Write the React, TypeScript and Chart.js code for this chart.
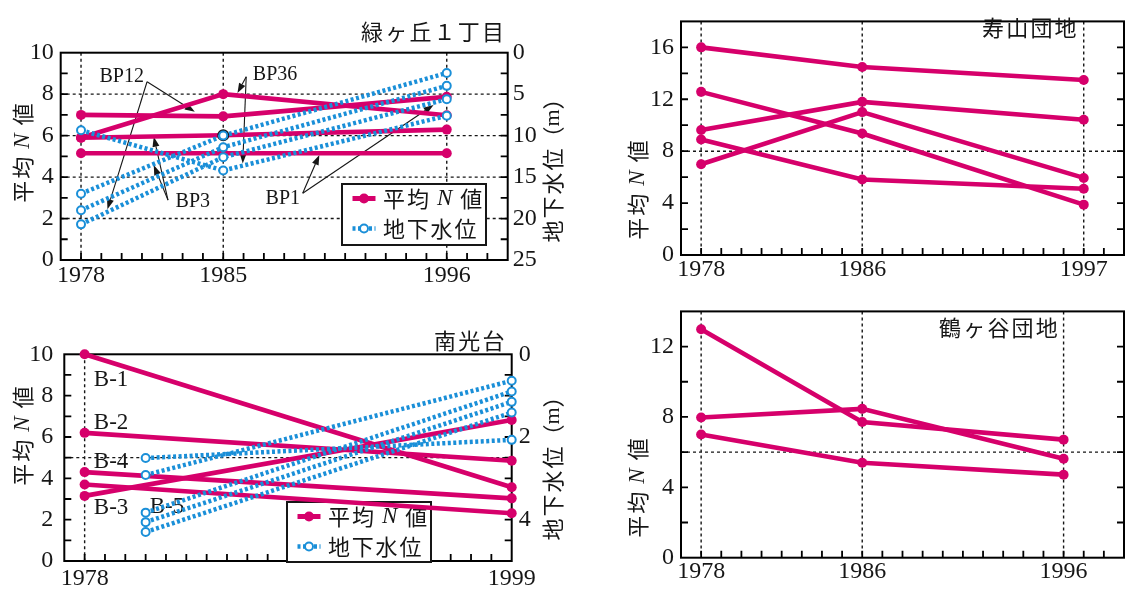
import React, { useEffect, useRef } from 'react';
import { Chart, registerables } from 'chart.js';
Chart.register(...registerables);

const PINK = '#d6006b';
const BLUE = '#1a8fd8';
const INK = '#161616';
const CJK = '"Noto Sans CJK JP", "Noto Sans CJK SC", sans-serif';
const SERIF = '"Liberation Serif", "DejaVu Serif", serif';

// minor tick positions
const yearMarks = [1978, 1979, 1980, 1981, 1982, 1983, 1984, 1985, 1986, 1987, 1988, 1989, 1990, 1991, 1992, 1993, 1994, 1995, 1996, 1997, 1998];

// ---------- Panel 1 : 緑ヶ丘１丁目 ----------
const p1Years = [1978, 1985, 1996];
const p1N_BP12 = [7.0, 6.93, 7.87];
const p1N_BP36 = [5.9, 8.0, 6.98];
const p1N_BP3 = [5.9, 6.02, 6.29];
const p1N_BP1 = [5.15, 5.15, 5.15];
const p1W_BP36 = [9.35, 14.2, 7.6];
const p1W_BP3 = [17.0, 10.0, 2.45];
const p1W_BP12 = [19.0, 11.4, 4.0];
const p1W_BP1 = [20.7, 12.6, 5.6];
const p1XLabels = [1978, 1985, 1996];
const p1YLabels = [0, 2, 4, 6, 8, 10];
const p1WLabels = [0, 5, 10, 15, 20, 25];
const p1GridY = [2, 4, 6, 8];
const p1YMarks = [1, 2, 3, 4, 5, 6, 7, 8, 9];

// ---------- Panel 2 : 南光台 ----------
const p2NYears = [1978, 1999];
const p2N_B1 = [10.0, 3.57];
const p2N_B2 = [6.2, 4.85];
const p2N_B4 = [4.3, 3.03];
const p2N_B3 = [3.15, 6.82];
const p2N_B5 = [3.7, 2.31];
const p2WYears = [1981, 1999];
const p2W_1 = [2.92, 0.64];
const p2W_2 = [3.83, 0.9];
const p2W_3 = [4.06, 1.15];
const p2W_4 = [4.3, 1.41];
const p2W_5 = [2.51, 2.07];
const p2XLabels = [1978, 1999];
const p2YLabels = [0, 2, 4, 6, 8, 10];
const p2WLabels = [0, 2, 4];
const p2GridX = [1978];
const p2GridY = [5];
const p2YMarks = [1, 2, 3, 4, 5, 6, 7, 8, 9];

// ---------- Panel 3 : 寿山団地 ----------
const p3Years = [1978, 1986, 1997];
const p3N_a = [16.0, 14.49, 13.48];
const p3N_b = [12.57, 9.36, 3.88];
const p3N_c = [9.63, 11.8, 10.42];
const p3N_d = [6.99, 11.01, 5.94];
const p3N_e = [8.9, 5.82, 5.1];
const p3XLabels = [1978, 1986, 1997];
const p3YLabels = [0, 4, 8, 12, 16];
const p3GridY = [8];
const p3YMarks = [2, 4, 6, 8, 10, 12, 14, 16];

// ---------- Panel 4 : 鶴ヶ谷団地 ----------
const p4Years = [1978, 1986, 1996];
const p4N_a = [12.99, 7.71, 6.71];
const p4N_b = [7.97, 8.46, 5.62];
const p4N_c = [7.0, 5.4, 4.72];
const p4XLabels = [1978, 1986, 1996];
const p4YLabels = [0, 4, 8, 12];
const p4GridY = [6];
const p4YMarks = [2, 4, 6, 8, 10, 12];

// annotations (data coordinates)
const p1Notes = [
  { label: 'BP12', at: [1980.0, 8.83], from: [1981.25, 8.6], to: [[1983.6, 7.15], [1979.3, 2.45]] },
  { label: 'BP36', at: [1987.55, 8.92], from: [1986.13, 8.84], to: [[1985.7, 8.05], [1985.96, 4.66]] },
  { label: 'BP3', at: [1983.5, 2.81], from: [1982.28, 2.89], to: [[1981.58, 5.95], [1981.58, 4.58]] },
  { label: 'BP1', at: [1987.93, 2.94], from: [1988.91, 3.22], to: [[1989.73, 5.07], [1995.35, 7.48]] },
];
const p2Labels = [
  { label: 'B-1', at: [1978.45, 8.76] },
  { label: 'B-2', at: [1978.45, 6.7] },
  { label: 'B-4', at: [1978.45, 4.8] },
  { label: 'B-3', at: [1978.45, 2.55] },
  { label: 'B-5', at: [1981.2, 2.63] },
];

type Part = { t?: string; f?: string; ls?: number; gap?: number };
const cjk = (t: string, ls = 2.2): Part => ({ t, f: `22px ${CJK}`, ls });
const N_TITLE: Part[] = [cjk('平均', 2), { gap: 8 }, { t: 'N', f: `italic 23px ${SERIF}` }, { gap: 8 }, cjk('値')];
const W_TITLE: Part[] = [cjk('地下水位', 2), { t: '（', f: `22px ${CJK}` }, { t: 'm', f: `22px ${SERIF}` }, { t: '）', f: `22px ${CJK}` }];

function partsWidth(ctx: CanvasRenderingContext2D, parts: Part[]) {
  let w = 0;
  for (const p of parts) {
    if (p.gap) { w += p.gap; continue; }
    ctx.font = p.f!;
    const chars = Array.from(p.t!);
    chars.forEach((ch, i) => { w += ctx.measureText(ch).width + (i < chars.length - 1 ? p.ls || 0 : 0); });
  }
  return w;
}
function drawParts(ctx: CanvasRenderingContext2D, parts: Part[], x: number, y: number, align: 'left' | 'center') {
  ctx.textBaseline = 'middle';
  ctx.textAlign = 'left';
  let cx = align === 'center' ? x - partsWidth(ctx, parts) / 2 : x;
  for (const p of parts) {
    if (p.gap) { cx += p.gap; continue; }
    ctx.font = p.f!;
    const chars = Array.from(p.t!);
    chars.forEach((ch, i) => {
      ctx.fillText(ch, cx, y);
      cx += ctx.measureText(ch).width + (i < chars.length - 1 ? p.ls || 0 : 0);
    });
  }
}
function drawRotated(ctx: CanvasRenderingContext2D, parts: Part[], x: number, y: number) {
  ctx.save();
  ctx.translate(x, y);
  ctx.rotate(-Math.PI / 2);
  drawParts(ctx, parts, 0, 0, 'center');
  ctx.restore();
}
function arrow(ctx: CanvasRenderingContext2D, x1: number, y1: number, x2: number, y2: number) {
  const ang = Math.atan2(y2 - y1, x2 - x1);
  const hl = 10, hw = 3.5;
  const bx = x2 - hl * Math.cos(ang), by = y2 - hl * Math.sin(ang);
  ctx.beginPath();
  ctx.moveTo(x1, y1);
  ctx.lineTo(bx, by);
  ctx.stroke();
  ctx.beginPath();
  ctx.moveTo(x2, y2);
  ctx.lineTo(bx + hw * Math.sin(ang), by - hw * Math.cos(ang));
  ctx.lineTo(bx - hw * Math.sin(ang), by + hw * Math.cos(ang));
  ctx.closePath();
  ctx.fill();
}

function drawLegend(ctx: CanvasRenderingContext2D, L: { x: number; y: number; w: number; h: number }) {
  ctx.save();
  ctx.setLineDash([]);
  ctx.fillStyle = '#fff';
  ctx.fillRect(L.x, L.y, L.w, L.h);
  ctx.strokeStyle = INK;
  ctx.lineWidth = 2;
  ctx.strokeRect(L.x, L.y, L.w, L.h);
  const r1 = L.y + 14.5, r2 = L.y + 44.5;
  const s1 = L.x + 10.5, s2 = L.x + 33.5, mid = (s1 + s2) / 2;
  ctx.strokeStyle = PINK;
  ctx.lineWidth = 5;
  ctx.beginPath(); ctx.moveTo(s1, r1); ctx.lineTo(s2, r1); ctx.stroke();
  ctx.fillStyle = PINK;
  ctx.beginPath(); ctx.arc(mid, r1, 5, 0, Math.PI * 2); ctx.fill();
  ctx.strokeStyle = BLUE;
  ctx.lineWidth = 4.5;
  ctx.setLineDash([3, 2.5]);
  ctx.beginPath(); ctx.moveTo(s1, r2); ctx.lineTo(s2, r2); ctx.stroke();
  ctx.setLineDash([]);
  ctx.fillStyle = '#fff';
  ctx.lineWidth = 2;
  ctx.beginPath(); ctx.arc(mid, r2, 4, 0, Math.PI * 2); ctx.fill(); ctx.stroke();
  ctx.fillStyle = INK;
  drawParts(ctx, N_TITLE, L.x + 41, r1, 'left');
  drawParts(ctx, [cjk('地下水位', 1.8)], L.x + 41, r2, 'left');
  ctx.restore();
}

const pts = (years: number[], vals: number[]) => years.map((x, i) => ({ x, y: vals[i] }));
const nDs = (years: number[], vals: number[], extra: any = {}) => ({
  data: pts(years, vals),
  borderColor: PINK, backgroundColor: PINK, borderWidth: 4.6,
  pointRadius: 5, pointHoverRadius: 5, pointBackgroundColor: PINK, pointBorderColor: PINK, pointBorderWidth: 0,
  yAxisID: 'y', order: 2, clip: false, ...extra,
});
const wDs = (years: number[], vals: number[]) => ({
  data: pts(years, vals),
  borderColor: BLUE, backgroundColor: '#fff', borderWidth: 4.5, borderDash: [3, 2.5],
  pointRadius: 4, pointHoverRadius: 4, pointBackgroundColor: '#fff', pointBorderColor: BLUE, pointBorderWidth: 2,
  yAxisID: 'y2', order: 1, clip: false,
});

interface PanelCfg {
  box: { left: number; top: number; w: number; h: number };
  area: { left: number; right: number; top: number; bottom: number };
  xMin: number; xMax: number; xLabels: number[]; xMarks: number[];
  yMin: number; yMax: number; yLabels: number[]; yMarks: number[];
  y2?: { min: number; max: number; labels: number[] };
  gridX: number[]; gridY: number[];
  datasets: any[];
  title: { text: string; x: number; y: number };
  yTitle: [number, number];
  y2Title?: [number, number];
  legend?: { x: number; y: number; w: number; h: number };
  notes?: typeof p1Notes;
  labels?: typeof p2Labels;
  pad: { x: number; y: number; y2: number };
}

function decoPlugin(cfg: PanelCfg) {
  return {
    id: 'deco',
    beforeDatasetsDraw(chart: any) {
      const ctx: CanvasRenderingContext2D = chart.ctx;
      const a = chart.chartArea;
      const sx = chart.scales.x, sy = chart.scales.y;
      ctx.save();
      // dotted grid
      ctx.strokeStyle = INK;
      ctx.lineWidth = 1.4;
      ctx.setLineDash([3, 3]);
      ctx.beginPath();
      cfg.gridX.forEach((v) => { const p = sx.getPixelForValue(v); ctx.moveTo(p, a.top); ctx.lineTo(p, a.bottom); });
      cfg.gridY.forEach((v) => { const p = sy.getPixelForValue(v); ctx.moveTo(a.left, p); ctx.lineTo(a.right, p); });
      ctx.stroke();
      ctx.restore();

      // inward tick marks
      ctx.save();
      ctx.setLineDash([]);
      ctx.strokeStyle = '#000';
      ctx.lineWidth = 1.8;
      ctx.beginPath();
      cfg.xMarks.forEach((v) => { const p = sx.getPixelForValue(v); ctx.moveTo(p, a.bottom); ctx.lineTo(p, a.bottom - 7); });
      cfg.yMarks.forEach((v) => {
        const p = sy.getPixelForValue(v);
        ctx.moveTo(a.left, p); ctx.lineTo(a.left + 7, p);
        ctx.moveTo(a.right, p); ctx.lineTo(a.right - 7, p);
      });
      ctx.stroke();
      // frame
      ctx.lineWidth = 2;
      ctx.strokeRect(a.left, a.top, a.right - a.left, a.bottom - a.top);
      ctx.restore();

      if (cfg.legend) drawLegend(ctx, cfg.legend);

      ctx.save();
      ctx.fillStyle = INK;
      ctx.strokeStyle = INK;
      ctx.lineWidth = 1.1;
      (cfg.notes || []).forEach((n) => {
        ctx.font = `20px ${SERIF}`;
        ctx.textAlign = 'center';
        ctx.textBaseline = 'middle';
        ctx.fillText(n.label, sx.getPixelForValue(n.at[0]), sy.getPixelForValue(n.at[1]));
        const fx = sx.getPixelForValue(n.from[0]), fy = sy.getPixelForValue(n.from[1]);
        n.to.forEach((t) => arrow(ctx, fx, fy, sx.getPixelForValue(t[0]), sy.getPixelForValue(t[1])));
      });
      (cfg.labels || []).forEach((l) => {
        ctx.font = `23px ${SERIF}`;
        ctx.textAlign = 'left';
        ctx.textBaseline = 'middle';
        ctx.fillText(l.label, sx.getPixelForValue(l.at[0]), sy.getPixelForValue(l.at[1]));
      });
      ctx.restore();
    },
    afterDraw(chart: any) {
      const { ctx } = chart;
      ctx.save();
      ctx.fillStyle = INK;
      drawParts(ctx, [cjk(cfg.title.text)], cfg.title.x, cfg.title.y, 'left');
      drawRotated(ctx, N_TITLE, cfg.yTitle[0], cfg.yTitle[1]);
      if (cfg.y2Title) drawRotated(ctx, W_TITLE, cfg.y2Title[0], cfg.y2Title[1]);
      ctx.restore();
    },
  };
}

function buildConfig(cfg: PanelCfg): any {
  const { box, area } = cfg;
  const tickFont = { family: SERIF, size: 24 };
  const scales: any = {
    x: {
      type: 'linear', position: 'bottom', min: cfg.xMin, max: cfg.xMax,
      grid: { display: false, drawTicks: false }, border: { display: false },
      ticks: { font: tickFont, color: INK, padding: cfg.pad.x, maxRotation: 0, minRotation: 0, autoSkip: false, callback: (v: number) => String(v) },
      afterBuildTicks: (s: any) => { s.ticks = cfg.xLabels.map((v) => ({ value: v })); },
      afterFit: (s: any) => { s.height = box.h - area.bottom; },
    },
    y: {
      type: 'linear', position: 'left', min: cfg.yMin, max: cfg.yMax,
      grid: { display: false, drawTicks: false }, border: { display: false },
      ticks: { font: tickFont, color: INK, padding: cfg.pad.y, autoSkip: false, callback: (v: number) => String(v) },
      afterBuildTicks: (s: any) => { s.ticks = cfg.yLabels.map((v) => ({ value: v })); },
      afterFit: (s: any) => { s.width = area.left; },
    },
  };
  if (cfg.y2) {
    const y2 = cfg.y2;
    scales.y2 = {
      type: 'linear', position: 'right', min: y2.min, max: y2.max, reverse: true,
      grid: { display: false, drawTicks: false }, border: { display: false },
      ticks: { font: tickFont, color: INK, padding: cfg.pad.y2, autoSkip: false, callback: (v: number) => String(v) },
      afterBuildTicks: (s: any) => { s.ticks = y2.labels.map((v) => ({ value: v })); },
      afterFit: (s: any) => { s.width = box.w - area.right; },
    };
  }
  return {
    type: 'line',
    data: { datasets: cfg.datasets },
    options: {
      responsive: false, animation: false, events: [],
      layout: { padding: { top: area.top, left: 0, bottom: 0, right: cfg.y2 ? 0 : box.w - area.right } },
      plugins: { legend: { display: false }, tooltip: { enabled: false } },
      elements: { line: { tension: 0 } },
      scales,
    },
    plugins: [decoPlugin(cfg)],
  };
}

const panels: PanelCfg[] = [
  {
    box: { left: 0, top: 0, w: 580, h: 290 },
    area: { left: 60.7, right: 507.7, top: 52.7, bottom: 260 },
    xMin: 1977, xMax: 1999, xLabels: p1XLabels, xMarks: yearMarks,
    yMin: 0, yMax: 10, yLabels: p1YLabels, yMarks: p1YMarks,
    y2: { min: 0, max: 25, labels: p1WLabels },
    gridX: p1XLabels, gridY: p1GridY,
    datasets: [
      nDs(p1Years, p1N_BP12), nDs(p1Years, p1N_BP36),
      nDs(p1Years, p1N_BP3, { pointBorderColor: [PINK, INK, PINK], pointBorderWidth: [0, 2, 0] }),
      nDs(p1Years, p1N_BP1),
      wDs(p1Years, p1W_BP36), wDs(p1Years, p1W_BP3), wDs(p1Years, p1W_BP12), wDs(p1Years, p1W_BP1),
    ],
    title: { text: '緑ヶ丘１丁目', x: 361, y: 32 },
    yTitle: [23, 153], y2Title: [553, 165],
    legend: { x: 342, y: 184, w: 144, h: 61 },
    notes: p1Notes,
    pad: { x: 1, y: 7, y2: 5 },
  },
  {
    box: { left: 0, top: 290, w: 580, h: 300 },
    area: { left: 64.3, right: 511.7, top: 64.3, bottom: 271 },
    xMin: 1977, xMax: 1999, xLabels: p2XLabels, xMarks: yearMarks,
    yMin: 0, yMax: 10, yLabels: p2YLabels, yMarks: p2YMarks,
    y2: { min: 0, max: 5, labels: p2WLabels },
    gridX: p2GridX, gridY: p2GridY,
    datasets: [
      nDs(p2NYears, p2N_B1), nDs(p2NYears, p2N_B2), nDs(p2NYears, p2N_B4), nDs(p2NYears, p2N_B3), nDs(p2NYears, p2N_B5),
      wDs(p2WYears, p2W_1), wDs(p2WYears, p2W_2), wDs(p2WYears, p2W_3), wDs(p2WYears, p2W_4), wDs(p2WYears, p2W_5),
    ],
    title: { text: '南光台', x: 434, y: 51 },
    yTitle: [23, 146], y2Title: [553, 173],
    legend: { x: 287, y: 212, w: 144, h: 60 },
    labels: p2Labels,
    pad: { x: 3.5, y: 11, y2: 7 },
  },
  {
    box: { left: 565, top: 0, w: 564, h: 290 },
    area: { left: 116, right: 562.7, top: 5.7, bottom: 255 },
    xMin: 1977, xMax: 1999, xLabels: p3XLabels, xMarks: yearMarks,
    yMin: 0, yMax: 18, yLabels: p3YLabels, yMarks: p3YMarks,
    gridX: p3XLabels, gridY: p3GridY,
    datasets: [nDs(p3Years, p3N_a), nDs(p3Years, p3N_b), nDs(p3Years, p3N_c), nDs(p3Years, p3N_d), nDs(p3Years, p3N_e)],
    title: { text: '寿山団地', x: 417, y: 28 },
    yTitle: [73, 190],
    pad: { x: 0, y: 7, y2: 0 },
  },
  {
    box: { left: 565, top: 290, w: 564, h: 300 },
    area: { left: 116, right: 562.7, top: 17.3, bottom: 267.7 },
    xMin: 1977, xMax: 1999, xLabels: p4XLabels, xMarks: yearMarks,
    yMin: 0, yMax: 14, yLabels: p4YLabels, yMarks: p4YMarks,
    gridX: p4XLabels, gridY: p4GridY,
    datasets: [nDs(p4Years, p4N_a), nDs(p4Years, p4N_b), nDs(p4Years, p4N_c)],
    title: { text: '鶴ヶ谷団地', x: 374, y: 38 },
    yTitle: [73, 198],
    pad: { x: 0, y: 7, y2: 0 },
  },
];

function Panel({ cfg }: { cfg: PanelCfg }) {
  const ref = useRef<HTMLCanvasElement>(null);
  useEffect(() => {
    const chart = new Chart(ref.current!, buildConfig(cfg));
    return () => chart.destroy();
  }, []);
  return (
    <canvas
      ref={ref}
      width={cfg.box.w}
      height={cfg.box.h}
      style={{ position: 'absolute', left: cfg.box.left, top: cfg.box.top, width: cfg.box.w, height: cfg.box.h }}
    />
  );
}

export default function App() {
  return (
    <div style={{ position: 'absolute', left: 0, top: 0, width: 1129, height: 590, background: '#fff', overflow: 'hidden' }}>
      {panels.map((p, i) => <Panel key={i} cfg={p} />)}
    </div>
  );
}
